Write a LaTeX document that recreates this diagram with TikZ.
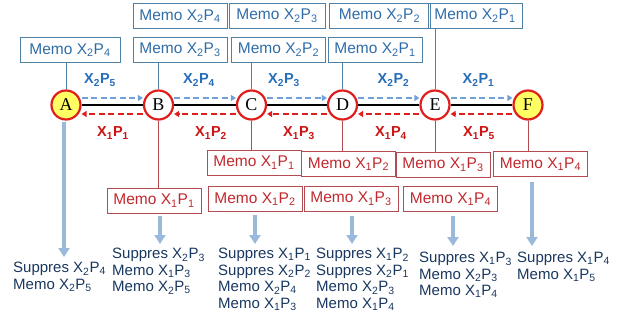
\documentclass[tikz,border=0pt]{standalone}
\usepackage{fontspec}
\setmainfont{Liberation Sans}
\newfontfamily\letterfont{Liberation Serif}
\usepackage{xcolor}
\usepackage{tikz}
\usetikzlibrary{positioning,arrows.meta}
\definecolor{boxblue}{RGB}{79,129,165}
\definecolor{txtblue}{RGB}{46,108,166}
\definecolor{lblblue}{RGB}{38,110,185}
\definecolor{dashblue}{RGB}{111,160,216}
\definecolor{boxred}{RGB}{180,75,80}
\definecolor{txtred}{RGB}{192,40,45}
\definecolor{lblred}{RGB}{205,20,20}
\definecolor{ringred}{RGB}{225,30,30}
\definecolor{nodeyellow}{RGB}{255,255,100}
\definecolor{flowblue}{RGB}{155,185,218}
\definecolor{noteblue}{RGB}{25,55,95}
\newcommand{\XP}[2]{X\textsubscript{#1}P\textsubscript{#2}}
\tikzset{
station/.style={
circle,
draw=ringred,
line width=2.2pt,
fill=white,
minimum size=29pt,
inner sep=0pt,
font=\letterfont\fontsize{18}{18}\selectfont
},
terminal/.style={
station,
fill=nodeyellow
},
memotop/.style={
draw=boxblue,
text=txtblue,
minimum width=94pt,
minimum height=25pt,
inner sep=2pt,
font=\fontsize{15.5}{15.5}\selectfont
},
memobot/.style={
memotop,
draw=boxred,
text=txtred
},
fwdlabel/.style={
text=lblblue,
font=\bfseries\fontsize{14.5}{14.5}\selectfont
},
bwdlabel/.style={
text=lblred,
font=\bfseries\fontsize{14.5}{14.5}\selectfont
},
fwd/.style={
dashblue,
line width=1.6pt,
dash pattern=on 6pt off 3.5pt,
-{Triangle[length=5pt,width=6pt]}
},
bwd/.style={
ringred,
line width=1.6pt,
dash pattern=on 6pt off 3.5pt,
-{Triangle[length=5pt,width=6pt]}
},
link/.style={
line width=1.3pt
},
tieblue/.style={
boxblue,
line width=0.7pt
},
tiered/.style={
boxred,
line width=0.7pt
},
flow/.style={
flowblue,
line width=3.5pt,
-{Triangle[length=9pt,width=11pt]}
},
note/.style={
text=noteblue,
align=left,
anchor=north west,
inner sep=1pt,
font=\fontsize{15}{16.5}\selectfont
}
}
\begin{document}
\begin{tikzpicture}[x=1pt,y=-1pt]
\useasboundingbox (0,0) rectangle (624,324);

\node[terminal](A) at (66,105){A};

\node[station](B) at (158.5,105){B};

\node[station](C) at (251.5,105){C};

\node[station](D) at (342.5,105){D};

\node[station](E) at (435,105){E};

\node[terminal](F) at (528,105){F};

\draw[link](A)--(B);

\draw[link](B)--(C);

\draw[link](C)--(D);

\draw[link](D)--(E);

\draw[link](E)--(F);

\draw[fwd]([yshift=7pt]A.east)--([yshift=7pt]B.west);

\draw[fwd]([yshift=7pt]B.east)--([yshift=7pt]C.west);

\draw[fwd]([yshift=7pt]C.east)--([yshift=7pt]D.west);

\draw[fwd]([yshift=7pt]D.east)--([yshift=7pt]E.west);

\draw[fwd]([yshift=7pt]E.east)--([yshift=7pt]F.west);

\draw[bwd]([yshift=-9pt]B.west)--([yshift=-9pt]A.east);

\draw[bwd]([yshift=-9pt]C.west)--([yshift=-9pt]B.east);

\draw[bwd]([yshift=-9pt]D.west)--([yshift=-9pt]C.east);

\draw[bwd]([yshift=-9pt]E.west)--([yshift=-9pt]D.east);

\draw[bwd]([yshift=-9pt]F.west)--([yshift=-9pt]E.east);

\node[fwdlabel](fwdAB) at (100,80){\XP{2}{5}};

\node[fwdlabel](fwdBC) at (199,80){\XP{2}{4}};

\node[fwdlabel](fwdCD) at (284,80){\XP{2}{3}};

\node[fwdlabel](fwdDE) at (393.5,80){\XP{2}{2}};

\node[fwdlabel](fwdEF) at (478.5,80){\XP{2}{1}};

\node[bwdlabel](bwdAB) at (113,133){\XP{1}{1}};

\node[bwdlabel](bwdBC) at (211,133){\XP{1}{2}};

\node[bwdlabel](bwdCD) at (299,133){\XP{1}{3}};

\node[bwdlabel](bwdDE) at (391,133){\XP{1}{4}};

\node[bwdlabel](bwdEF) at (479,133){\XP{1}{5}};

\node[memotop,minimum width=100pt](topA) at (70,50){Memo \XP{2}{4}};

\node[memotop](topB) at (180,49.5){Memo \XP{2}{3}};

\node[memotop](topBB) at (180,16){Memo \XP{2}{4}};

\node[memotop](topC) at (278.5,49.5){Memo \XP{2}{2}};

\node[memotop,minimum width=96pt](topCC) at (277,15.5){Memo \XP{2}{3}};

\node[memotop](topD) at (375,49.5){Memo \XP{2}{1}};

\node[memotop,minimum width=101pt](topDD) at (379.5,15.5){Memo \XP{2}{2}};

\node[memotop](topEE) at (475,15.5){Memo \XP{2}{1}};

\draw[tieblue](topA.south -| A)--(A);

\draw[tieblue](topB.south -| B)--(B);

\draw[tieblue](topC.south -| C)--(C);

\draw[tieblue](topD.south -| D)--(D);

\draw[tieblue](topEE.south -| E)--(E);

\node[memobot](botB) at (154,200.5){Memo \XP{1}{1}};

\node[memobot](botC) at (254,162.5){Memo \XP{1}{1}};

\node[memobot](botCC) at (255,199){Memo \XP{1}{2}};

\node[memobot](botD) at (348.5,164){Memo \XP{1}{2}};

\node[memobot](botDD) at (351,199){Memo \XP{1}{3}};

\node[memobot](botE) at (443,165){Memo \XP{1}{3}};

\node[memobot](botEE) at (450.5,199){Memo \XP{1}{4}};

\node[memobot](botF) at (540.5,164){Memo \XP{1}{4}};

\draw[tiered](B)--(botB.north -| B);

\draw[tiered](C)--(botC.north -| C);

\draw[tiered](D)--(botD.north -| D);

\draw[tiered](E)--(botE.north -| E);

\draw[tiered](F)--(botF.north -| F);

\node[note](noteA) at (12,261){Suppres \XP{2}{4}\\Memo \XP{2}{5}};

\node[note](noteB) at (111,247){Suppres \XP{2}{3}\\Memo \XP{1}{3}\\Memo \XP{2}{5}};

\node[note](noteC) at (217,247){Suppres \XP{1}{1}\\Suppres \XP{2}{2}\\Memo \XP{2}{4}\\Memo \XP{1}{3}};

\node[note](noteD) at (315,247){Suppres \XP{1}{2}\\Suppres \XP{2}{1}\\Memo \XP{2}{3}\\Memo \XP{1}{4}};

\node[note](noteE) at (418,251){Suppres \XP{1}{3}\\Memo \XP{2}{3}\\Memo \XP{1}{4}};

\node[note](noteF) at (516,251){Suppres \XP{1}{4}\\Memo \XP{1}{5}};

\draw[flow,shorten <=1pt,shorten >=4pt]([xshift=-2pt]A.south)--([xshift=-2pt]A.south |- noteA.north);

\draw[flow,shorten <=3pt,shorten >=3pt]([xshift=6pt]botB.south)--([xshift=6pt]botB.south |- noteB.north);

\draw[flow,shorten <=3pt,shorten >=3pt](botCC.south)--(botCC.south |- noteC.north);

\draw[flow,shorten <=4pt,shorten >=3pt]([xshift=1pt]botDD.south)--([xshift=1pt]botDD.south |- noteD.north);

\draw[flow,shorten <=4pt,shorten >=5pt]([xshift=2.5pt]botEE.south)--([xshift=2.5pt]botEE.south |- noteE.north);

\draw[flow,shorten <=5pt,shorten >=5pt]([xshift=-8.5pt]botF.south)--([xshift=-8.5pt]botF.south |- noteF.north);

\end{tikzpicture}
\end{document}
